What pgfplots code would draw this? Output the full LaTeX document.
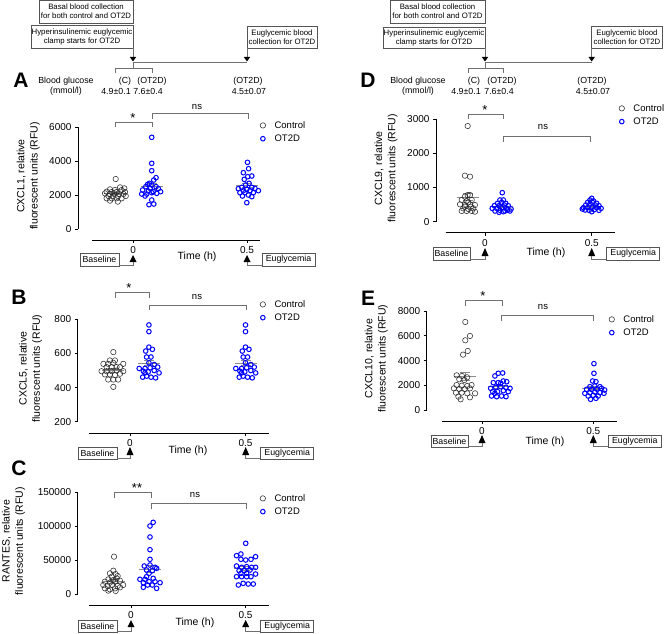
\documentclass[border=0pt]{standalone}
\usepackage{pgfplots}
\pgfplotsset{compat=1.18}
\usepackage{fontspec}
\setmainfont{Liberation Sans}
\definecolor{ctrl}{HTML}{2B2B2B}
\definecolor{meangray}{HTML}{8A8A8A}
\definecolor{linegray}{HTML}{707070}
\definecolor{boxgray}{HTML}{555555}
\newcommand{\fs}[2]{\fontsize{#1}{#2}\selectfont}

\pgfplotsset{
  prism/.style={
    scale only axis, clip=false,
    axis x line*=bottom, axis y line*=left,
    axis line style={line width=0.9pt, -},
    tick align=outside, major tick length=3pt,
    every tick/.style={line width=0.9pt, black},
    xtick={0,0.5}, xticklabels={0,0.5},
    tick label style={font=\fs{10}{12}},
    scaled y ticks=false, scaled x ticks=false,
    ylabel style={font=\fs{10.5}{13.3}, align=center, anchor=center},
    xlabel style={font=\fs{10.5}{12}, anchor=center},
    legend style={draw=none, fill=none, font=\fs{9.5}{11}, anchor=north west, inner sep=0pt, row sep=1pt, column sep=7pt},
    legend cell align=left,
    legend image code/.code={\draw[#1] plot coordinates {(0pt,0pt)};},
  },
  ctl/.style={only marks, mark=o, mark size=2.7pt, mark options={draw=ctrl, line width=0.55pt}},
  ot/.style={only marks, mark=o, mark size=2.3pt, mark options={draw=blue, line width=1.0pt}},
  mline/.style={forget plot, only marks, mark=-, mark size=11pt, mark options={meangray, line width=0.9pt}},
  scap/.style={forget plot, only marks, mark=-, mark size=5pt, mark options={meangray, line width=0.9pt}},
  sbar/.style={forget plot, meangray, line width=0.9pt, mark=none},
}
% mean +- sem: #1 x, #2 low, #3 mean, #4 high
\newcommand{\msem}[4]{%
  \addplot[sbar] coordinates {(#1,#2) (#1,#4)};
  \addplot[scap] coordinates {(#1,#2) (#1,#4)};
  \addplot[mline] coordinates {(#1,#3)};
}

\tikzset{
  sbox/.style={draw=boxgray, line width=0.7pt},
  btxt/.style={font=\fs{7.8}{9}, align=center},
  gtxt/.style={font=\fs{8.8}{10}},
  lett/.style={font=\fs{21}{21}\bfseries},
  brk/.style={draw=linegray, line width=0.8pt},
  sig/.style={font=\fs{9.5}{11}},
  star/.style={font=\fs{13}{13}},
}
\newcommand{\bottomann}[9]{%
  \draw[sbox] (#1,#3) rectangle (#2,#4);
  \node[font=\fs{8.8}{10}] at ({(#1+#2)/2},{(#3+#4)/2}) {Baseline};
  \fill (#5-3.5,#7) -- (#5,#6) -- (#5+3.5,#7) -- cycle;
  \draw[linegray, line width=0.7pt] (#2,#8) -- (#5,#8) -- (#5,#7);
  \fill (#9-3.5,#7) -- (#9,#6) -- (#9+3.5,#7) -- cycle;
  \draw[linegray, line width=0.7pt] (#9,#7) -- (#9,#8) -- (#9+15,#8);
  \draw[sbox] (#9+15,#3) rectangle (#9+68,#4);
  \node[font=\fs{8.8}{10}] at ({#9+41.5},{(#3+#4)/2}) {Euglycemia};
}

\begin{document}
\begin{tikzpicture}[x=1pt,y=-1pt]
\useasboundingbox (0,0) rectangle (669,634);

%================ Panel A =================
\begin{axis}[prism, at={(92pt,-229pt)}, anchor=south west, width=168pt, height=102pt,
  xmin=-0.18, xmax=0.557, ymin=0, ymax=6000, ytick={0,2000,4000,6000}, yticklabels={0,2000,4000,6000},
  axis x line shift=11pt, axis y line shift=14pt,
  ylabel={CXCL1, relative\\fluorescent units (RFU)}, ylabel style={at={(axis description cs:-0.379,0.52)}},
  xlabel={Time (h)}, xlabel style={at={(axis description cs:0.625,0)}, yshift=-28pt},
  legend style={at={(axis description cs:1.0,1.078)}}]
\msem{-0.08}{2020}{2080}{2140}
\msem{0.083}{2340}{2500}{2660}
\msem{0.5}{2460}{2570}{2680}
\addplot[ctl] coordinates {(-0.076,2941) (-0.057,2451) (-0.038,2392) (-0.101,2333) (-0.079,2294) (-0.050,2294) (-0.116,2196) (-0.094,2176) (-0.072,2176) (-0.035,2176) (-0.123,2098) (-0.101,2059) (-0.082,2098) (-0.061,2059) (-0.042,2059) (-0.108,1941) (-0.086,1941) (-0.065,1941) (-0.032,1941) (-0.116,1804) (-0.094,1804) (-0.072,1804) (-0.050,1804) (-0.101,1667) (-0.067,1608)};
\addplot[ot] coordinates {(0.082,5392) (0.082,3863) (0.082,3431) (0.101,3020) (0.091,2882) (0.072,2686) (0.064,2627) (0.082,2588) (0.101,2490) (0.056,2490) (0.075,2392) (0.111,2372) (0.042,2294) (0.067,2235) (0.089,2196) (0.121,2196) (0.038,2059) (0.060,2059) (0.082,2137) (0.104,2098) (0.053,1941) (0.082,1706) (0.070,1431) (0.091,1470)};
\addplot[ot, forget plot] coordinates {(0.502,3921) (0.507,3549) (0.484,3314) (0.503,3078) (0.521,3118) (0.488,2921) (0.509,2686) (0.494,2588) (0.477,2451) (0.462,2372) (0.521,2451) (0.535,2392) (0.499,2333) (0.484,2255) (0.513,2255) (0.550,2255) (0.469,2137) (0.491,2137) (0.528,2137) (0.506,2000) (0.480,1941) (0.521,1902) (0.499,1549)};
\legend{Control,OT2D}
\end{axis}

%================ Panel B =================
\begin{axis}[prism, at={(89.3pt,-421.7pt)}, anchor=south west, width=180pt, height=102.4pt,
  xmin=-0.176, xmax=0.603, ymin=200, ymax=800, ytick={200,400,600,800}, yticklabels={200,400,600,800},
  axis x line shift=11.6pt, axis y line shift=11.6pt,
  ylabel={CXCL5, relative\\fluorescent units (RFU)}, ylabel style={at={(axis description cs:-0.327,0.52)}},
  xlabel={Time (h)}, xlabel style={at={(axis description cs:0.548,0)}, yshift=-29.5pt},
  legend style={at={(axis description cs:0.948,1.208)}}]
\msem{-0.075}{490}{500}{510}
\msem{0.082}{527}{544}{561}
\msem{0.5}{527}{544}{561}
\addplot[ctl] coordinates {(-0.072,608) (-0.087,559) (-0.065,559) (-0.115,539) (-0.094,539) (-0.072,545) (-0.029,539) (-0.101,520) (-0.079,520) (-0.058,520) (-0.043,520) (-0.123,496) (-0.101,496) (-0.079,496) (-0.058,500) (-0.029,496) (-0.108,477) (-0.087,477) (-0.065,473) (-0.043,481) (-0.094,447) (-0.072,447) (-0.051,447) (-0.072,404)};
\addplot[ot] coordinates {(0.082,767) (0.082,728) (0.082,637) (0.068,614) (0.097,624) (0.072,579) (0.091,579) (0.082,545) (0.105,535) (0.040,512) (0.065,512) (0.087,516) (0.120,520) (0.058,496) (0.079,492) (0.105,500) (0.126,486) (0.055,461) (0.072,467) (0.091,461) (0.111,457) (0.065,486)};
\addplot[ot, forget plot] coordinates {(0.500,767) (0.500,728) (0.500,637) (0.486,614) (0.515,624) (0.490,579) (0.509,579) (0.500,545) (0.523,535) (0.458,512) (0.483,512) (0.505,516) (0.538,520) (0.476,496) (0.497,492) (0.523,500) (0.544,486) (0.473,461) (0.490,467) (0.509,461) (0.529,457) (0.483,486)};
\legend{Control,OT2D}
\end{axis}

%================ Panel C =================
\begin{axis}[prism, at={(89.3pt,-594.3pt)}, anchor=south west, width=180pt, height=102pt,
  xmin=-0.182, xmax=0.604, ymin=0, ymax=150000, ytick={0,50000,100000,150000}, yticklabels={0,50000,100000,150000},
  axis x line shift=10.7pt, axis y line shift=11.6pt,
  ylabel={RANTES, relative\\fluorescent units (RFU)}, ylabel style={at={(axis description cs:-0.421,0.52)}},
  xlabel={Time (h)}, xlabel style={at={(axis description cs:0.587,0)}, yshift=-28pt},
  legend style={at={(axis description cs:0.948,1.003)}}]
\msem{-0.075}{16600}{18900}{21200}
\msem{0.083}{31800}{36800}{41800}
\msem{0.5}{34500}{37500}{40500}
\addplot[ctl] coordinates {(-0.074,55345) (-0.077,34754) (-0.092,30838) (-0.067,29855) (-0.084,25931) (-0.058,26914) (-0.099,22010) (-0.077,21029) (-0.062,23480) (-0.114,18578) (-0.092,17108) (-0.070,18578) (-0.048,20049) (-0.121,13676) (-0.102,12206) (-0.082,13676) (-0.058,12206) (-0.034,13676) (-0.114,8775) (-0.092,7304) (-0.070,8775) (-0.048,10245) (-0.099,5343) (-0.067,4853)};
\addplot[ot] coordinates {(0.097,105838) (0.083,100441) (0.083,84265) (0.083,65637) (0.083,51421) (0.058,41618) (0.083,43089) (0.105,39657) (0.068,35735) (0.093,34754) (0.112,38186) (0.079,30838) (0.039,22010) (0.061,22010) (0.097,23480) (0.054,17108) (0.079,18578) (0.105,18578) (0.127,17108) (0.073,13676) (0.093,13676) (0.054,10245) (0.112,8775) (0.068,25931)};
\addplot[ot, forget plot] coordinates {(0.501,74956) (0.480,59265) (0.461,56814) (0.544,55343) (0.480,51421) (0.501,50441) (0.524,51421) (0.461,41618) (0.483,39657) (0.505,40637) (0.527,39657) (0.544,39657) (0.472,34754) (0.495,34754) (0.520,35735) (0.480,30838) (0.505,30838) (0.544,29855) (0.461,25931) (0.483,25931) (0.505,25931) (0.524,25931) (0.469,13676) (0.490,16127) (0.512,15147) (0.534,15147)};
\legend{Control,OT2D}
\end{axis}

%================ Panel D =================
\begin{axis}[prism, at={(445.7pt,-221.7pt)}, anchor=south west, width=169.3pt, height=102.7pt,
  xmin=-0.184, xmax=0.609, ymin=0, ymax=3000, ytick={0,1000,2000,3000}, yticklabels={0,1000,2000,3000},
  axis x line shift=11pt, axis y line shift=9.7pt,
  ylabel={CXCL9, relative\\fluorescent units (RFU)}, ylabel style={at={(axis description cs:-0.353,0.52)}},
  xlabel={Time (h)}, xlabel style={at={(axis description cs:0.592,0)}, yshift=-31pt},
  legend style={at={(axis description cs:1.023,1.166)}}]
\msem{-0.081}{610}{720}{830}
\msem{0.078}{414}{444}{474}
\msem{0.5}{430}{455}{480}
\addplot[ctl] coordinates {(-0.081,2795) (-0.094,1345) (-0.070,1315) (-0.081,780) (-0.094,731) (-0.070,780) (-0.109,634) (-0.086,605) (-0.062,634) (-0.117,507) (-0.094,488) (-0.070,507) (-0.047,488) (-0.102,390) (-0.078,371) (-0.055,390) (-0.109,313) (-0.086,313) (-0.062,313) (-0.047,293) (-0.094,439) (-0.066,439) (-0.078,566)};
\addplot[ot] coordinates {(0.081,848) (0.070,634) (0.086,634) (0.059,537) (0.078,566) (0.097,537) (0.044,468) (0.066,468) (0.090,488) (0.109,468) (0.034,390) (0.055,390) (0.078,410) (0.101,390) (0.122,371) (0.047,313) (0.070,332) (0.094,313) (0.117,313) (0.066,274) (0.086,293) (0.106,342)};
\addplot[ot, forget plot] coordinates {(0.500,683) (0.492,634) (0.508,605) (0.481,566) (0.503,566) (0.523,537) (0.472,488) (0.492,507) (0.516,488) (0.534,468) (0.461,410) (0.481,410) (0.503,429) (0.523,410) (0.544,390) (0.469,342) (0.488,332) (0.512,351) (0.534,332) (0.456,371) (0.500,293)};
\legend{Control,OT2D}
\end{axis}

%================ Panel E =================
\begin{axis}[prism, at={(441.7pt,-410.3pt)}, anchor=south west, width=175.6pt, height=99.3pt,
  xmin=-0.181, xmax=0.608, ymin=0, ymax=8000, ytick={0,2000,4000,6000,8000}, yticklabels={0,2000,4000,6000,8000},
  axis x line shift=10.7pt, axis y line shift=15pt,
  ylabel={CXCL10, relative\\fluorescent units (RFU)}, ylabel style={at={(axis description cs:-0.373,0.52)}},
  xlabel={Time (h)}, xlabel style={at={(axis description cs:0.588,0)}, yshift=-31pt},
  legend style={at={(axis description cs:0.952,0.98)}}]
\msem{-0.075}{2370}{2700}{3030}
\msem{0.075}{1790}{1900}{2010}
\msem{0.5}{1660}{1780}{1900}
\addplot[ctl] coordinates {(-0.075,7117) (-0.054,5989) (-0.075,5640) (-0.064,4780) (-0.085,4484) (-0.114,2819) (-0.090,2765) (-0.067,2657) (-0.102,2496) (-0.079,2442) (-0.114,2039) (-0.091,1985) (-0.066,1959) (-0.047,2039) (-0.126,1771) (-0.102,1717) (-0.078,1717) (-0.054,1771) (-0.117,1421) (-0.091,1421) (-0.066,1368) (-0.031,1368) (-0.106,1099) (-0.054,1045) (-0.096,884)};
\addplot[ot] coordinates {(0.073,2980) (0.093,3006) (0.058,2765) (0.051,2227) (0.073,2227) (0.096,2362) (0.111,2308) (0.039,1771) (0.062,1851) (0.084,1905) (0.108,1851) (0.126,1771) (0.048,1502) (0.070,1502) (0.096,1582) (0.118,1502) (0.043,1153) (0.066,1099) (0.088,1153) (0.108,1099) (0.058,1368) (0.084,2174)};
\addplot[ot, forget plot] coordinates {(0.503,3759) (0.503,2980) (0.497,2362) (0.512,2308) (0.485,1905) (0.507,1959) (0.530,1905) (0.470,1690) (0.492,1690) (0.515,1717) (0.537,1771) (0.551,1636) (0.462,1368) (0.485,1421) (0.507,1475) (0.530,1421) (0.548,1368) (0.477,1153) (0.500,1207) (0.522,1153) (0.488,884) (0.512,965)};
\legend{Control,OT2D}
\end{axis}

%================ Schematics =================
\draw[sbox] (39,0.5) rectangle (133,23);
\node[btxt] at (86,11.5) {Basal blood collection\\for both control and OT2D};
\draw[sbox] (31,25.5) rectangle (133,48);
\node[btxt] at (82,36.8) {Hyperinsulinemic euglycemic\\clamp starts for OT2D};
\draw[sbox] (247,26) rectangle (317,48);
\node[btxt] at (282,37) {Euglycemic blood\\collection for OT2D};
\draw[linegray, line width=0.7pt] (133,48) -- (133,58) (247,48) -- (247,58);
\fill (129.8,57) -- (133,61.5) -- (136.2,57) -- cycle;
\fill (243.8,57) -- (247,61.5) -- (250.2,57) -- cycle;
\draw[linegray, line width=0.8pt] (133,62) -- (247,62) (133,62) -- (133,68);
\draw[linegray, line width=0.7pt] (115,73) -- (115,68) -- (152,68) -- (152,73);
\node[lett] at (21,80) {A};
\node[gtxt] at (66,81) {Blood glucose};
\node[gtxt] at (66,91.5) {(mmol/l)};
\node[gtxt] at (125,81) {(C)};
\node[gtxt] at (116,91.5) {4.9±0.1};
\node[gtxt] at (152,81) {(OT2D)};
\node[gtxt] at (148,91.5) {7.6±0.4};
\node[gtxt] at (248,81) {(OT2D)};
\node[gtxt] at (249,91.5) {4.5±0.07};
\draw[sbox] (390,0.5) rectangle (485,23);
\node[btxt] at (437.5,11.5) {Basal blood collection\\for both control and OT2D};
\draw[sbox] (383,27.5) rectangle (485,48);
\node[btxt] at (434,37.8) {Hyperinsulinemic euglycemic\\clamp starts for OT2D};
\draw[sbox] (591.7,26) rectangle (662,48);
\node[btxt] at (627,37) {Euglycemic blood\\collection for OT2D};
\draw[linegray, line width=0.7pt] (485,48) -- (485,58) (591.7,48) -- (591.7,58);
\fill (481.8,57) -- (485,61.5) -- (488.2,57) -- cycle;
\fill (588.5,57) -- (591.7,61.5) -- (594.9,57) -- cycle;
\draw[linegray, line width=0.8pt] (485,62.5) -- (591.7,62.5) (485,62.5) -- (485,68);
\draw[linegray, line width=0.7pt] (468,73) -- (468,68) -- (503,68) -- (503,73);
\node[lett] at (368,80) {D};
\node[gtxt] at (418,81) {Blood glucose};
\node[gtxt] at (418,91.5) {(mmol/l)};
\node[gtxt] at (474,81) {(C)};
\node[gtxt] at (466,91.5) {4.9±0.1};
\node[gtxt] at (502,81) {(OT2D)};
\node[gtxt] at (499,91.5) {7.6±0.4};
\node[gtxt] at (592,81) {(OT2D)};
\node[gtxt] at (593,91.5) {4.5±0.07};

\node[lett] at (19,297) {B};
\node[lett] at (19,468) {C};
\node[lett] at (368,298) {E};

%================ Significance =================
\node[star] at (133,118) {*};
\draw[brk] (115,127) -- (115,122) -- (152,122) -- (152,127);
\node[sig] at (197,107) {ns};
\draw[brk] (152,119) -- (152,113) -- (248,113) -- (248,119);
\node[star] at (129,288) {*};
\draw[brk] (115,298) -- (115,292) -- (149,292) -- (149,298);
\node[sig] at (197,297) {ns};
\draw[brk] (149,310) -- (149,305) -- (246,305) -- (246,310);
\node[star] at (137,488) {**};
\draw[brk] (114,498) -- (114,492) -- (151,492) -- (151,498);
\node[sig] at (195,495) {ns};
\draw[brk] (151,509) -- (151,503) -- (246,503) -- (246,509);
\node[star] at (485,110) {*};
\draw[brk] (468,119) -- (468,114) -- (503,114) -- (503,119);
\node[sig] at (543,127) {ns};
\draw[brk] (503,142) -- (503,136) -- (590,136) -- (590,142);
\node[star] at (483,296) {*};
\draw[brk] (465,306) -- (465,300) -- (502,300) -- (502,306);
\node[sig] at (543,307) {ns};
\draw[brk] (501,321) -- (501,315) -- (593,315) -- (593,321);

%================ Bottom annotations =================
\bottomann{80}{119}{253}{266}{133}{255}{262}{265.5}{247}
\bottomann{78}{117}{447}{459}{130}{447}{455}{458.5}{245.7}
\bottomann{78}{117}{620}{632}{131}{620}{627}{631}{245.7}
\bottomann{433}{470}{247}{260}{485}{248}{256}{259.5}{591.7}
\bottomann{431}{468}{435}{447}{482}{435}{443}{446.5}{593.3}

\end{tikzpicture}
\end{document}
